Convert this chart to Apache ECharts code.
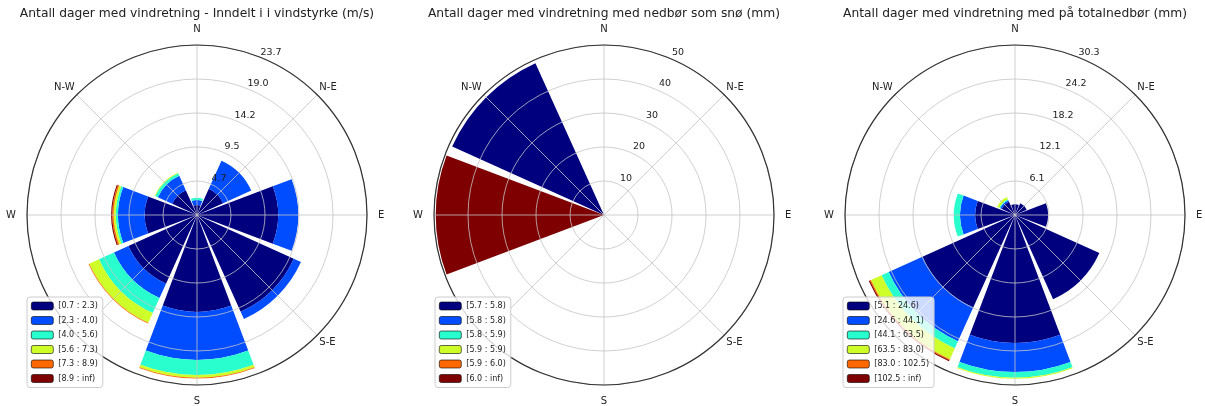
<!DOCTYPE html>
<html>
<head>
<meta charset="utf-8">
<script src="https://cdn.jsdelivr.net/npm/echarts@6/dist/echarts.min.js"></script>
<style>
html, body { margin: 0; padding: 0; background: #fff; }
#main { width: 1205px; height: 406px; }
</style>
</head>
<body>
<div id="main"></div>
<script>
// retninger mot klokka fra nord, da havner radiusaksen (skala) paa NNE
var dirs = ['N', 'N-W', 'W', 'S-W', 'S', 'S-E', 'E', 'N-E'];
var jet = ['#00007f', '#004cff', '#29ffce', '#ceff29', '#ff6800', '#7f0000'];

// figur 1 - vindstyrke (m/s)
var windTitle = 'Antall dager med vindretning - Inndelt i i vindstyrke (m/s)';
var windBins = ['[0.7 : 2.3)', '[2.3 : 4.0)', '[4.0 : 5.6)', '[5.6 : 7.3)', '[7.3 : 8.9)', '[8.9 : inf)'];
var wind0 = [1.4, 3.8, 7.3, 10.5, 13.5, 14.8, 11.3, 4.0];
var wind1 = [0.7, 2.2, 3.7, 2.2, 6.7, 1.1, 2.8, 4.3];
var wind2 = [0.3, 0.4, 0.3, 2.3, 2.1, 0, 0, 0];
var wind3 = [0, 0.1, 0.3, 1.5, 0.4, 0, 0, 0];
var wind4 = [0, 0, 0.2, 0.1, 0.1, 0, 0, 0];
var wind5 = [0, 0, 0.15, 0, 0, 0, 0, 0];
var windMax = 23.7;

// figur 2 - nedbør som snø (mm)
var snowTitle = 'Antall dager med vindretning med nedbør som snø (mm)';
var snowBins = ['[5.7 : 5.8)', '[5.8 : 5.8)', '[5.8 : 5.9)', '[5.9 : 5.9)', '[5.9 : 6.0)', '[6.0 : inf)'];
var snow0 = [0, 49, 0, 0, 0, 0, 0, 0];
var snow1 = [0, 0, 0, 0, 0, 0, 0, 0];
var snow2 = [0, 0, 0, 0, 0, 0, 0, 0];
var snow3 = [0, 0, 0, 0, 0, 0, 0, 0];
var snow4 = [0, 0, 0, 0, 0, 0, 0, 0];
var snow5 = [0, 0, 49.5, 0, 0, 0, 0, 0];
var snowMax = 50;

// figur 3 - totalnedbør (mm)
var totTitle = 'Antall dager med vindretning med på totalnedbør (mm)';
var totBins = ['[5.1 : 24.6)', '[24.6 : 44.1)', '[44.1 : 63.5)', '[63.5 : 83.0)', '[83.0 : 102.5)', '[102.5 : inf)'];
var tot0 = [1.9, 2.6, 7.1, 18.1, 22.8, 16.5, 5.9, 2.3];
var tot1 = [0, 0.3, 2.7, 6.6, 5.2, 0, 0, 0];
var tot2 = [0, 0.2, 1.1, 1.4, 1.0, 0, 0, 0];
var tot3 = [0, 0.4, 0, 2.1, 0.2, 0, 0, 0];
var tot4 = [0, 0, 0, 0.2, 0, 0, 0, 0];
var tot5 = [0, 0, 0, 0.2, 0, 0, 0, 0];
var totMax = 30.3;

var charts = [
    {title: windTitle, bins: windBins, values: [wind0, wind1, wind2, wind3, wind4, wind5], max: windMax, dec: 1},
    {title: snowTitle, bins: snowBins, values: [snow0, snow1, snow2, snow3, snow4, snow5], max: snowMax, dec: 0},
    {title: totTitle, bins: totBins, values: [tot0, tot1, tot2, tot3, tot4, tot5], max: totMax, dec: 1}
];

var centers = [197, 604, 1015];
var legendLeft = [27, 435, 843];
var font = 'DejaVu Sans';

var titles = [], polars = [], angleAxes = [], radiusAxes = [], legends = [], series = [];

charts.forEach(function (c, i) {
    titles.push({
        text: c.title, left: centers[i] - 5, top: 3, textAlign: 'center',
        textStyle: {fontFamily: font, fontSize: 12.3, fontWeight: 'normal', color: '#222'}
    });
    polars.push({center: [centers[i], 215], radius: 170});
    angleAxes.push({
        polarIndex: i, type: 'category', data: dirs,
        startAngle: 67.5, clockwise: false, z: 4,
        axisLine: {lineStyle: {color: '#333', width: 1.2}},
        axisTick: {show: false, alignWithLabel: true},
        splitLine: {show: true, lineStyle: {color: '#c4c4c4', width: 0.8}},
        axisLabel: {
            margin: 3, fontFamily: font, fontSize: 10, color: '#222',
            formatter: function (v) {
                if (v === 'S-W') return '';   // skjult bak legenden
                return v.length === 1 ? '{c|' + v + '}' : v;
            },
            rich: {c: {padding: [8, 8, 8, 8], fontFamily: font, fontSize: 10, color: '#222'}}
        }
    });
    radiusAxes.push({
        polarIndex: i, type: 'value', min: 0, max: c.max, interval: c.max / 5, z: 3,
        axisLine: {show: false},
        axisTick: {show: false},
        splitLine: {show: true, lineStyle: {color: '#c4c4c4', width: 0.8}},
        axisLabel: {
            margin: 0, align: 'center', verticalAlign: 'middle',
            fontFamily: font, fontSize: 9.5, color: '#222',
            formatter: function (v) { return v === 0 ? '' : '{r|' + v.toFixed(c.dec) + '}'; },
            rich: {r: {padding: [0, 0, 11, 18], fontFamily: font, fontSize: 9.5, color: '#222'}}
        }
    });
    legends.push({
        data: c.bins, orient: 'vertical', left: legendLeft[i], top: 297, z: 6,
        padding: [4, 5, 4, 4], itemWidth: 22, itemHeight: 8, itemGap: 4.5,
        backgroundColor: 'rgba(255,255,255,0.8)', borderColor: '#ccc', borderWidth: 1, borderRadius: 3,
        itemStyle: {borderColor: '#000', borderWidth: 0.6},
        textStyle: {fontFamily: font, fontSize: 8, lineHeight: 10, color: '#222'},
        selectedMode: false
    });
    c.bins.forEach(function (name, k) {
        series.push({
            name: name, type: 'bar', coordinateSystem: 'polar', polarIndex: i,
            stack: 'rose' + i, barCategoryGap: '8%',
            itemStyle: {color: jet[k]},
            data: c.values[k]
        });
    });
});

var myChart = echarts.init(document.getElementById('main'));
myChart.setOption({
    animation: false,
    backgroundColor: '#fff',
    title: titles,
    polar: polars,
    angleAxis: angleAxes,
    radiusAxis: radiusAxes,
    legend: legends,
    series: series
});
</script>
</body>
</html>
